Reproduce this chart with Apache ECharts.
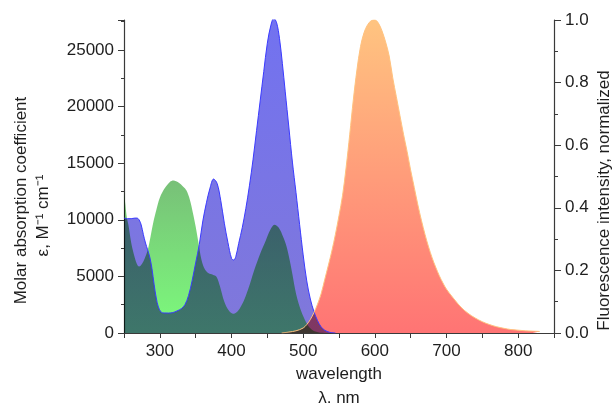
<!DOCTYPE html>
<html>
<head>
<meta charset="utf-8">
<script src="https://cdn.jsdelivr.net/npm/echarts@6/dist/echarts.min.js"></script>
<style>
html,body{margin:0;padding:0;background:#fff;}
#chart{width:613px;height:403px;}
</style>
</head>
<body>
<div id="chart"></div>
<script>
// Absorption of compound 1 (blue), left axis
const absBlueWl = [250,255,260,265,268,271,274,277,280,283,286,289,292,295,298,302,306,312,318,324,330,335,340,345,350,355,360,365,370,375,380,385,390,395,400,403,406,410,415,420,425,430,435,440,445,450,455,459,463,467,471,475,480,485,490,495,500,505,510,515,520,525,530,537,545];
const absBlue   = [10150,10100,10100,10150,10150,10000,9550,8700,7950,7350,6700,5700,4300,3100,2300,1830,1770,1760,1800,1950,2150,2500,3300,4600,6200,7800,9900,11500,12800,13600,13200,11700,9700,8000,6600,6450,6750,7900,9300,11000,13000,15300,17900,20500,23100,25600,27200,27800,27400,26000,23800,21300,18200,15100,12400,9600,6900,4600,3000,1900,1100,550,250,60,0];
// Absorption of compound 2 (green), left axis
const absGreenWl = [250,252,254,256,260,264,268,271,275,279,283,287,291,295,300,307,314,319,326,333,337,342,346,350,354,358,363,368,374,379,384,390,396,402,408,414,420,426,432,440,448,454,460,466,472,477,481,485,490,495,500,505,510,518,530,545];
const absGreen   = [12600,11300,10200,9600,8000,6900,6100,5880,6100,6600,7300,8500,9800,10850,11950,12800,13350,13480,13300,12900,12600,11750,10650,9400,7950,6500,5600,5280,5150,4980,4100,2750,2000,1700,1880,2450,3300,4400,5600,7000,8200,9100,9570,9300,8500,7600,6500,5200,3500,2350,1500,850,420,100,0,0];
// Normalized fluorescence (orange), right axis
const flWl = [470,480,490,500,505,510,515,520,525,530,535,540,545,550,555,560,565,570,575,580,585,590,595,600,605,610,615,620,625,630,635,640,645,650,655,660,665,670,675,680,685,690,695,700,710,720,730,740,750,760,770,780,790,800,810,820,830];
const fl   = [0,0.003,0.007,0.016,0.027,0.043,0.065,0.092,0.125,0.17,0.215,0.262,0.315,0.375,0.44,0.53,0.635,0.745,0.84,0.915,0.96,0.985,0.998,1.0,0.99,0.965,0.93,0.885,0.815,0.755,0.695,0.635,0.58,0.52,0.465,0.41,0.36,0.315,0.275,0.24,0.21,0.183,0.16,0.14,0.11,0.083,0.063,0.048,0.036,0.027,0.02,0.015,0.011,0.009,0.007,0.006,0.005];

const leftTickMax = 27650;

function pairs(xs, ys){ return xs.map((x,i)=>[x, ys[i]]); }
function grad(top, bottom){
  return new echarts.graphic.LinearGradient(0,0,0,1,[{offset:0,color:top},{offset:1,color:bottom}]);
}
const FONT = 'Liberation Sans, Arial, sans-serif';
const TXT = '#1e1e1e';
const AX = '#3a3a3a';

const chart = echarts.init(document.getElementById('chart'), null, {renderer:'canvas'});
const option = {
  backgroundColor: '#ffffff',
  animation: false,
  textStyle: {fontFamily: FONT},
  grid: {left: 124, right: 59, top: 20, height: 313, containLabel: false, outerBoundsMode: 'none'},
  xAxis: {
    type: 'value', min: 250, max: 850, interval: 50,
    name: 'wavelength\nλ, nm', nameLocation: 'middle', nameGap: 29, nameMoveOverlap: false,
    nameTextStyle: {fontSize: 17, color: TXT, lineHeight: 24, fontFamily: FONT},
    axisLine: {lineStyle: {color: AX, width: 1.2}},
    axisTick: {show: true, inside: false, length: 5, lineStyle: {color: AX}},
    axisLabel: {fontSize: 17, color: TXT, margin: 10, fontFamily: FONT,
      formatter: v => (v % 100 === 0 && v > 250 && v < 850) ? String(v) : ''},
    splitLine: {show: false}
  },
  yAxis: [{
    type: 'value', min: 0, max: leftTickMax, interval: 5000, position: 'left',
    name: '{a|Molar absorption coefficient}\n{b|ε, M⁻¹ cm⁻¹}',
    nameLocation: 'middle', nameGap: 70, nameMoveOverlap: false,
    nameTextStyle: {fontSize: 17, color: TXT, lineHeight: 22, fontFamily: FONT, padding: [0, 48, 0, 0],
      rich: {a: {fontSize: 17, color: TXT, fontFamily: FONT, lineHeight: 22},
             b: {fontSize: 17, color: TXT, fontFamily: FONT, lineHeight: 22, padding: [0, 30, 0, 0]}}},
    axisLine: {show: true, lineStyle: {color: AX, width: 1.2}},
    axisTick: {show: true, inside: false, length: 6, lineStyle: {color: AX}},
    minorTick: {show: true, splitNumber: 2, length: 3, lineStyle: {color: AX}},
    axisLabel: {fontSize: 17, color: TXT, margin: 10, showMaxLabel: false, fontFamily: FONT,
      formatter: v => String(v)},
    splitLine: {show: false}
  }, {
    type: 'value', min: 0, max: 1, interval: 0.2, position: 'right',
    name: 'Fluorescence intensity, normalized',
    nameLocation: 'middle', nameGap: 42, nameMoveOverlap: false,
    nameTextStyle: {fontSize: 17, color: TXT, fontFamily: FONT, padding: [0, 48, 0, 0]},
    axisLine: {show: true, lineStyle: {color: AX, width: 1.2}},
    axisTick: {show: true, inside: false, length: 7, lineStyle: {color: AX}},
    minorTick: {show: true, splitNumber: 2, length: 4, lineStyle: {color: AX}},
    axisLabel: {fontSize: 17, color: TXT, margin: 11, fontFamily: FONT, formatter: v => v.toFixed(1)},
    splitLine: {show: false}
  }],
  series: [{
    name: 'Absorption (green)', type: 'line', yAxisIndex: 0, data: pairs(absGreenWl, absGreen),
    smooth: 0.35, symbol: 'none',
    lineStyle: {width: 0, opacity: 0},
    areaStyle: {color: grad('#78c078', '#7cfc7c'), opacity: 1}
  }, {
    name: 'Absorption (blue)', type: 'line', yAxisIndex: 0, data: pairs(absBlueWl, absBlue),
    smooth: 0.35, symbol: 'none',
    lineStyle: {color: '#3a3aff', width: 1},
    areaStyle: {color: grad('#7272f0', '#8078da'), opacity: 1}
  }, {
    name: 'Fluorescence', type: 'line', yAxisIndex: 1, data: pairs(flWl, fl),
    smooth: 0.35, symbol: 'none',
    lineStyle: {color: '#ffc27e', width: 1},
    areaStyle: {color: grad('#ffc480', '#ff7474'), opacity: 1}
  }]
};
chart.setOption(option);
// overlapping fills are blended (multiply), as in the original figure
try {
  const zr = chart.getZr();
  zr.storage.getDisplayList(true).forEach(el => {
    if (el.type && String(el.type).indexOf('polygon') >= 0) {
      el.style.blend = 'multiply';
      el.markRedraw();
    }
  });
  zr.refreshImmediately();
} catch (e) {}
</script>
</body>
</html>
